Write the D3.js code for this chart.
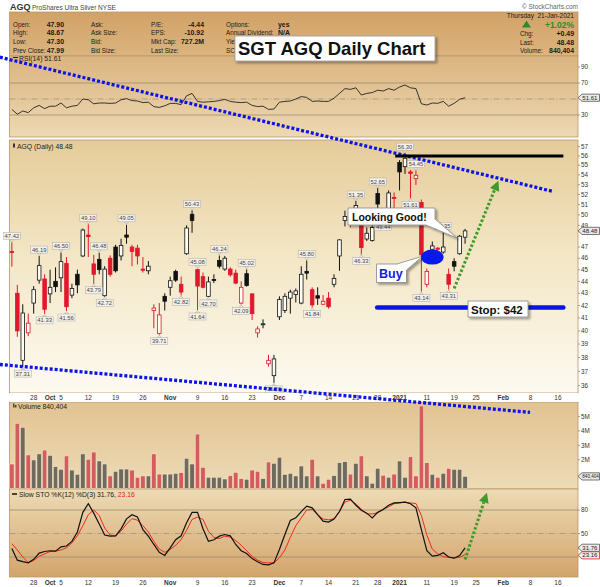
<!DOCTYPE html>
<html><head><meta charset="utf-8">
<script src="https://cdn.jsdelivr.net/npm/d3@7"></script>
<style>body{margin:0;background:#fff;}svg{display:block;}text{font-family:"Liberation Sans",Arial,sans-serif;}</style>
</head><body><svg id="c" width="600" height="587"></svg>
<script>
// ---------------- DATA (trading-day index 1..84 = 22-Sep-2020 .. 21-Jan-2021) ----------------
const opens  = [46.6,43.0,37.8,39.85,42.2,44.1,44.2,42.95,44.0,44.3, 45.55,42.85,44.6,46.2,48.1,45.5,45.9,42.8,46.0,47.0,
  46.2,48.1,47.0,46.9,45.05,44.9,41.6,39.8,42.75,43.5, 44.85,43.75,46.4,50.05,45.0,44.4,42.75,44.15,45.8,45.05,
  45.05,44.7,42.2,44.65,42.95,39.85,40.5,37.55,36.7,41.1, 41.6,42.6,42.9,42.2,44.85,43.3,42.8,42.1,42.6,43.75,
  46.2,49.45,50.0,50.5,49.5,47.73,47.6,52.1,50.2,50.35, 51.7,55.3,54.85,54.3,53.6,51.2,43.75,46.8,46.9,46.55,
  44.6,45.7,46.4,47.90];
const highs  = [47.42,43.7,42.1,41.35,43.6,46.19,44.6,45.0,45.2,46.5, 46.1,43.8,45.0,48.7,49.10,46.3,46.48,45.3,46.25,47.2,
  47.75,49.05,47.2,47.2,46.1,45.75,42.1,42.2,43.0,44.4, 45.0,44.4,49.0,50.43,45.08,44.75,44.4,44.6,46.24,46.2,
  45.2,45.0,44.0,45.02,43.0,40.35,40.9,38.2,38.2,42.75, 43.0,43.3,43.4,45.3,45.80,43.5,43.5,42.85,43.1,44.6,
  47.7,50.4,50.5,51.35,50.6,48.8,49.0,52.65,50.4,52.4, 52.2,55.55,56.30,54.5,54.45,51.5,45.1,47.5,47.0,48.35,
  45.1,46.0,48.1,48.67];
const lows   = [45.26,39.55,37.31,39.6,41.35,43.8,41.33,42.2,43.1,43.1, 41.56,42.6,43.0,46.1,46.1,43.79,44.6,42.72,44.4,44.75,
  45.8,47.3,45.3,45.45,44.75,44.6,40.2,39.71,41.6,42.8, 43.95,42.82,46.3,48.3,41.64,43.4,42.70,43.85,45.1,44.9,
  44.4,43.75,42.09,43.55,40.85,39.5,40.2,37.35,36.2,40.85, 41.4,41.35,42.25,42.1,44.15,41.84,42.05,42.05,41.75,43.5,
  44.9,48.9,48.8,49.8,46.33,47.55,47.5,49.6,49.44,50.0, 50.6,52.4,54.1,51.61,52.95,43.14,43.5,46.3,46.4,46.4,
  43.31,44.85,46.3,47.30];
const closes = [46.5,40.0,41.4,40.6,43.3,45.35,41.7,43.5,43.55,45.7, 41.9,43.4,43.7,48.56,47.95,44.6,45.0,45.05,44.6,44.9,
  47.15,47.9,46.6,46.2,44.95,45.3,41.8,41.25,42.35,44.05, 44.1,43.1,48.75,49.45,43.6,43.5,43.95,44.1,45.3,46.0,
  44.55,43.85,43.5,43.65,41.35,40.15,40.55,37.8,37.9,42.5, 42.75,43.1,43.2,44.6,44.7,42.05,42.6,42.35,41.9,44.25,
  47.65,49.85,49.6,50.9,46.95,48.26,48.8,51.05,49.5,52.15, 51.6,54.3,55.75,54.15,53.95,46.3,44.85,47.1,46.8,47.0,
  43.75,45.3,47.99,48.48];
const priorClose = 47.0;
const volumeM = [1.70,4.53,4.25,2.33,1.98,2.40,2.67,2.30,1.51,1.33, 2.26,1.28,0.98,2.40,2.03,2.53,1.91,1.70,0.87,1.19,
  1.35,1.35,1.28,0.78,0.87,0.87,2.40,1.00,1.00,1.00, 1.05,1.10,2.10,1.70,3.78,1.47,0.78,0.78,0.78,0.66,
  0.89,1.12,0.68,0.64,1.28,1.19,0.68,1.84,1.75,2.17, 0.98,1.05,0.87,1.56,0.87,2.03,0.87,0.36,0.64,0.89,
  1.79,1.86,1.00,1.75,2.26,0.87,0.36,1.40,0.92,0.78, 1.00,1.91,0.78,2.21,0.87,5.73,1.79,0.98,0.78,1.05,
  1.40,1.33,1.33,0.84];
const rsi14 = [37,31,35,33,39,42,38,41,41,45, 39,41,42,50,49,44,45,45,44.5,45, 49,50.5,48,47.5,45.5,46,40.5,39.5,41.5,44.5,
  44.5,43,54,57,47,46,46.5,47,48,49.5, 47,46,45.5,46,42,40.5,41,37,37.5,46, 47,47.5,50,53,52,47,47.5,47,47,51,
  57,63,62,64,55,57,58,61,60,63, 61,65,67.5,64,63,44,42.5,45,44.6,47, 41,44.6,49.6,51.61];
const stoK = [31,16,14,12.5,17,25,27,28,27.5,33, 34,40,52,77,88,76,62,48,46.6,47, 56,68.7,74,71,55,46.6,36,26,22,31.7,
  42,47,63.7,77,77,56,40,42,46.6,48.7, 47,36,28,24.5,18,14,10.5,10,12.5,29.6, 48.7,66.6,70,78,85,82.8,74,65.7,64.5,68.5,
  78,93.4,94,86,79.7,76,70,77,80.6,86, 89,89.5,90,88,82.8,55,28,21,22,25.5, 20,18.5,21.9,31.76];
const stoD = [37,29,20,13,15.5,21,24,27,27.4,29, 31.7,38,47,60,74,80,73,57,48,47, 53,62,69,67,60,52,40,30,26,29.6,
  35,42.3,54,68,71,68,53,45,43.5,46.6, 45.5,41,35,28,21,16,13,12.5,12.5,19, 29,45,60,70,80,80.6,74,68.5,67.5,68.8,
  78,90,92.5,88,81,75,75,76.5,81,84, 88,89,90,89,88.3,73,48,30,24,20.5, 19.5,19,19.5,23.16];
// high / low price flags
const flagIdx  = [1,3,6,7,10,11,15,16,17,18,22,28,32,34,35,35,37,39,43,44,49,55,56,64,65,68,69,73,74,75,76,80,81];
const flagType = ["h","l","h","l","h","l","h","l","h","l","h","l","l","h","h","l","l","h","l","h","l","h","l","h","l","h","l","h","l","h","l","h","l"];
const flagVal  = [47.42,37.31,46.19,41.33,46.50,41.56,49.10,43.79,46.48,42.72,49.05,39.71,42.82,50.43,45.08,41.64,42.70,46.24,42.09,45.02,36.20,45.80,41.84,51.35,46.33,52.65,49.44,56.30,51.61,54.45,43.14,48.35,43.31];
// axis ticks
const xTickIdx = [5,8,10,15,20,25,30,35,40,45,50,54,59,64,68,72,77,82,86,91,96,101];
const xTickLab = ["28","Oct","5","12","19","26","Nov","9","16","23","Dec","7","14","21","28","2021","11","19","25","Feb","8","16"];
const xTickBold = ["Oct","Nov","Dec","2021","Feb"];
const priceTicks = [36,37,38,39,40,41,42,43,44,45,46,47,49,50,51,52,53,54,55,56,57];
const rsiTicks = [30,70,90];
const volTicks = [2,3,4,5];
const stoTicks = [20,50,80];
// annotation levels (index, price)
const upperTrend = [[-1.2,67.7],[100.1,52.3]];
const lowerTrend = [[-1.2,37.5],[95.9,34.2]];
const resistance = [[71.2,56.0],[102,56.0]];
const stopLine   = [[67.9,41.85],[102,41.85]];
const greenArrowPrice = [[82,43.4],[90.1,53.4]];
const greenArrowSto   = [[84,16.8],[88,102]];
const buyPoint = [78,46.1];

// ---------------- SCALES ----------------
const svg = d3.select("#c");
const x  = d3.scaleLinear().domain([0,101]).range([6.4,557.9]);
const yP = d3.scaleLog().domain([36,57]).range([385.7,146.7]);
const yR = d3.scaleLinear().domain([30,70]).range([115,83]);
const yV = d3.scaleLinear().domain([0,5]).range([488.5,416.5]);
const yS = d3.scaleLinear().domain([20,80]).range([557,510]);
const PL=9.5, PR=578;

const defs = svg.append("defs");
function vgrad(id, stops){const g=defs.append("linearGradient").attr("id",id).attr("x1",0).attr("y1",0).attr("x2",0).attr("y2",1);
  stops.forEach(([o,c])=>g.append("stop").attr("offset",o).attr("stop-color",c));}
vgrad("gHead",[[0,"#d1a267"],[1,"#dbb47f"]]);
vgrad("gRsi",[[0,"#dbb47f"],[1,"#edd9b3"]]);
vgrad("gPrice",[[0,"#e5cb99"],[0.45,"#f3e6c5"],[1,"#fdfaf1"]]);
vgrad("gVol",[[0,"#e2c392"],[1,"#eddbb7"]]);
vgrad("gSto",[[0,"#eddbb5"],[1,"#d3a46b"]]);
const sh = defs.append("filter").attr("id","shadow").attr("x","-10%").attr("y","-20%").attr("width","130%").attr("height","160%");
sh.append("feDropShadow").attr("dx",2).attr("dy",2).attr("stdDeviation",1).attr("flood-color","#000").attr("flood-opacity",0.35);

// panels
const panels = [[12,56,"gHead"],[56,137,"gRsi"],[140,393,"gPrice"],[402,489,"gVol"],[489,577,"gSto"]];
svg.selectAll("rect.panel").data(panels).join("rect").attr("class","panel")
  .attr("x",PL).attr("y",d=>d[0]).attr("width",PR-PL).attr("height",d=>d[1]-d[0])
  .attr("fill",d=>`url(#${d[2]})`).attr("stroke","#b8976a").attr("stroke-width",0.8);

// title row
svg.append("text").attr("x",10).attr("y",10).attr("font-size",9).attr("font-weight","bold").attr("fill","#333").text("AGQ");
svg.append("text").attr("x",32).attr("y",10).attr("font-size",6.5).attr("fill","#444").text("ProShares Ultra Silver  NYSE");
svg.append("text").attr("x",578).attr("y",9).attr("font-size",6.5).attr("fill","#666").attr("text-anchor","end").text("© StockCharts.com");

// header block
const hdr = svg.append("g").attr("fill","#1a1a1a");
const rowsY = [26.5,35.3,44,52.8];
const col1 = ["Open:","High:","Low:","Prev Close:"], val1=["47.90","48.67","47.30","47.99"];
const col2 = ["Ask:","Ask Size:","Bid:","Bid Size:"];
const col3 = ["P/E:","EPS:","Mkt Cap:","Last Size:"], val3=["-4.44","-10.92","727.2M",""];
const col4 = ["Options:","Annual Dividend:","Yield:","SCTR:"], val4=["yes","N/A","",""];
const LF=6.3, VF=6.9;
rowsY.forEach((y,i)=>{
  hdr.append("text").attr("x",13).attr("y",y).attr("font-size",LF).text(col1[i]);
  hdr.append("text").attr("x",64).attr("y",y).attr("font-size",VF).attr("font-weight","bold").attr("text-anchor","end").text(val1[i]);
  hdr.append("text").attr("x",91).attr("y",y).attr("font-size",LF).text(col2[i]);
  hdr.append("text").attr("x",151).attr("y",y).attr("font-size",LF).text(col3[i]);
  hdr.append("text").attr("x",204).attr("y",y).attr("font-size",VF).attr("font-weight","bold").attr("text-anchor","end").text(val3[i]);
  hdr.append("text").attr("x",226).attr("y",y).attr("font-size",LF).text(col4[i]);
  hdr.append("text").attr("x",278).attr("y",y).attr("font-size",VF).attr("font-weight","bold").text(val4[i]);
});
hdr.append("text").attr("x",574).attr("y",17.5).attr("font-size",6.5).attr("text-anchor","end").attr("xml:space","preserve").text("Thursday  21-Jan-2021");
svg.append("path").attr("d","M522,27.5 L526.5,20.5 L531,27.5 Z").attr("fill","#2e8b2e");
svg.append("text").attr("x",574).attr("y",27.5).attr("font-size",8.5).attr("font-weight","bold").attr("fill","#2e8b2e").attr("text-anchor","end").text("+1.02%");
[["Chg:","+0.49"],["Last:","48.48"],["Volume:","840,404"]].forEach((r,i)=>{
  const y=[36,44.5,53][i];
  hdr.append("text").attr("x",520).attr("y",y).attr("font-size",LF).text(r[0]);
  hdr.append("text").attr("x",574).attr("y",y).attr("font-size",VF).attr("font-weight","bold").attr("text-anchor","end").text(r[1]);
});

// ---------- gridlines ----------
const grid = svg.append("g");
[70,30].forEach(v=>grid.append("line").attr("x1",PL).attr("x2",PR).attr("y1",yR(v)).attr("y2",yR(v)).attr("stroke","#a08a6c").attr("stroke-width",0.8));
grid.append("line").attr("x1",PL).attr("x2",PR).attr("y1",yR(50)).attr("y2",yR(50)).attr("stroke","#9c8a76").attr("stroke-width",0.7).attr("stroke-dasharray","6,2,1,2");
[80,20].forEach(v=>grid.append("line").attr("x1",PL).attr("x2",PR).attr("y1",yS(v)).attr("y2",yS(v)).attr("stroke","#a08a6c").attr("stroke-width",0.8));
grid.append("line").attr("x1",PL).attr("x2",PR).attr("y1",yS(50)).attr("y2",yS(50)).attr("stroke","#9c8a76").attr("stroke-width",0.7).attr("stroke-dasharray","6,2,1,2");

// ---------- RSI ----------
const lineGen = (ys)=>d3.line().x((d,i)=>x(i+1)).y(d=>ys(d));
svg.append("path").datum(rsi14).attr("d",lineGen(yR)).attr("fill","none").attr("stroke","#222").attr("stroke-width",0.9);
svg.append("line").attr("x1",13).attr("x2",18).attr("y1",57.5).attr("y2",57.5).attr("stroke","#222");
svg.append("text").attr("x",19).attr("y",60.5).attr("font-size",6.8).attr("font-family","DejaVu Sans").attr("fill","#222").text("RSI(14) 51.61");

// ---------- Price panel ----------
svg.append("rect").attr("x",13).attr("y",143.5).attr("width",2).attr("height",4).attr("fill","#333");
svg.append("text").attr("x",17).attr("y",148.5).attr("font-size",6.8).attr("font-family","DejaVu Sans").attr("fill","#222").text("AGQ (Daily) 48.48");

const candles = closes.map((c,i)=>({i:i+1,o:opens[i],h:highs[i],l:lows[i],c:c,pc:i?closes[i-1]:priorClose}));
const cg = svg.append("g");
const colr = d=> d.c>=d.pc ? "#111" : "#e0182c";
cg.selectAll("line.wick").data(candles).join("line").attr("class","wick")
  .attr("x1",d=>x(d.i)).attr("x2",d=>x(d.i)).attr("y1",d=>yP(d.h)).attr("y2",d=>yP(d.l))
  .attr("stroke",colr).attr("stroke-width",1);
cg.selectAll("rect.body").data(candles).join("rect").attr("class","body")
  .attr("x",d=>x(d.i)-1.8).attr("width",3.6)
  .attr("y",d=>yP(Math.max(d.o,d.c)))
  .attr("height",d=>Math.max(1,Math.abs(yP(d.o)-yP(d.c))))
  .attr("fill",d=> d.c>d.o ? "#fffdf4" : colr(d))
  .attr("stroke",colr).attr("stroke-width",0.8);

// flags
const fg = svg.append("g");
flagIdx.forEach((idx,k)=>{
  const v=flagVal[k], t=flagType[k], cx=x(idx), py=yP(v);
  const w=17, h=7;
  const by = t==="h" ? py-3-h : py+3;
  const tip = t==="h" ? `M${cx-2},${by+h} L${cx},${py-0.5} L${cx+2},${by+h}Z` : `M${cx-2},${by} L${cx},${py+0.5} L${cx+2},${by}Z`;
  fg.append("path").attr("d",tip).attr("fill","#f4f1ea").attr("stroke","#999").attr("stroke-width",0.5);
  fg.append("rect").attr("x",cx-w/2).attr("y",by).attr("width",w).attr("height",h).attr("fill","#f4f1ea").attr("stroke","#aaa").attr("stroke-width",0.5);
  fg.append("text").attr("x",cx).attr("y",by+5.6).attr("text-anchor","middle").attr("font-size",5.8).attr("font-family","DejaVu Sans").attr("fill","#444").text(v.toFixed(2));
});

// ---------- Volume ----------
svg.append("rect").attr("x",13).attr("y",403.5).attr("width",1.5).attr("height",4).attr("fill","#444");
svg.append("rect").attr("x",15).attr("y",405).attr("width",1.5).attr("height",2.5).attr("fill","#444");
svg.append("text").attr("x",18).attr("y",408.5).attr("font-size",6.8).attr("font-family","DejaVu Sans").attr("fill","#222").text("Volume 840,404");
svg.selectAll("rect.vol").data(candles).join("rect").attr("class","vol")
  .attr("x",d=>x(d.i)-2.2).attr("width",4.4)
  .attr("y",(d,i)=>yV(volumeM[i])).attr("height",(d,i)=>yV(0)-yV(volumeM[i]))
  .attr("fill",d=> d.c>=d.pc ? "#6f6a60" : "#d45c5e").attr("stroke","#f6e9c9").attr("stroke-width",0.5);

// ---------- Stochastics ----------
svg.append("path").datum(stoD).attr("d",lineGen(yS)).attr("fill","none").attr("stroke","#ee2a1e").attr("stroke-width",1);
svg.append("path").datum(stoK).attr("d",lineGen(yS)).attr("fill","none").attr("stroke","#111").attr("stroke-width",1.2);
svg.append("line").attr("x1",12).attr("x2",17).attr("y1",494).attr("y2",494).attr("stroke","#111").attr("stroke-width",1.5);
const st = svg.append("text").attr("x",19).attr("y",496.5).attr("font-size",6.8).attr("font-family","DejaVu Sans").attr("fill","#222");
st.append("tspan").text("Slow STO %K(12) %D(3) 31.76, ");
st.append("tspan").attr("fill","#e8201c").text("23.16");

// ---------- X axes ----------
svg.append("rect").attr("x",PL).attr("y",393).attr("width",PR-PL).attr("height",9).attr("fill","#fff");
[399.5,584.5].forEach(yy=>{
  svg.append("g").selectAll("text").data(xTickIdx).join("text")
    .attr("x",d=>x(d)).attr("y",yy).attr("text-anchor","middle")
    .attr("font-size",6.5).attr("font-family","DejaVu Sans")
    .attr("font-weight",(d,i)=>xTickBold.includes(xTickLab[i])?"bold":"normal")
    .attr("fill","#333").text((d,i)=>xTickLab[i]);
});

// ---------- right axes ----------
const ax = svg.append("g").attr("font-family","DejaVu Sans").attr("font-size",6.3).attr("fill","#333");
function rlab(y,t){ax.append("line").attr("x1",PR).attr("x2",PR+2).attr("y1",y).attr("y2",y).attr("stroke","#666").attr("stroke-width",0.6);
  ax.append("text").attr("x",581).attr("y",y+2.2).text(t);}
priceTicks.forEach(p=>rlab(yP(p),p));
rsiTicks.forEach(v=>rlab(yR(v),v));
volTicks.forEach(v=>rlab(yV(v),v+"M"));
stoTicks.filter(v=>v!==20).forEach(v=>rlab(yS(v),v));
function tag(y,t,col,fs){
  svg.append("path").attr("d",`M${PR},${y} L${PR+4},${y-3.6} H599.5 V${y+3.6} H${PR+4} Z`).attr("fill","#eceae6").attr("stroke",col).attr("stroke-width",0.8);
  svg.append("text").attr("x",PR+4.3).attr("y",y+2).attr("font-size",fs||6).attr("font-family","DejaVu Sans").attr("fill","#222").text(t);
}
tag(yR(51.61),"51.61","#555");
tag(yP(48.48),"48.48","#555");
tag(yV(0.84),"840,404","#555",4.6);
tag(yS(31.76),"31.76","#555");
tag(yS(23.16)+0.8,"23.16","#e8201c");

// ---------- annotations ----------
const ptP = d=>[x(d[0]),yP(d[1])];
const ann = svg.append("g");
[upperTrend,lowerTrend].forEach(seg=>{
  ann.append("line").attr("x1",ptP(seg[0])[0]).attr("y1",ptP(seg[0])[1]).attr("x2",ptP(seg[1])[0]).attr("y2",ptP(seg[1])[1])
    .attr("stroke","#0a14e6").attr("stroke-width",3.3).attr("stroke-dasharray","3,2");
});
ann.append("line").attr("x1",ptP(resistance[0])[0]).attr("y1",ptP(resistance[0])[1]).attr("x2",ptP(resistance[1])[0]).attr("y2",ptP(resistance[1])[1])
  .attr("stroke","#000").attr("stroke-width",3);
ann.append("line").attr("x1",ptP(stopLine[0])[0]).attr("y1",ptP(stopLine[0])[1]).attr("x2",ptP(stopLine[1])[0]).attr("y2",ptP(stopLine[1])[1])
  .attr("stroke","#0a14e6").attr("stroke-width",4.5).attr("stroke-linecap","round");

function greenArrow(p0,p1){
  const dx=p1[0]-p0[0], dy=p1[1]-p0[1], L=Math.hypot(dx,dy), ux=dx/L, uy=dy/L;
  const hl=10, hw=5;
  const bx=p1[0]-ux*hl, by=p1[1]-uy*hl;
  ann.append("line").attr("x1",p0[0]).attr("y1",p0[1]).attr("x2",bx).attr("y2",by)
    .attr("stroke","#3d9b2a").attr("stroke-width",3).attr("stroke-dasharray","2.5,2");
  ann.append("path").attr("d",`M${p1[0]},${p1[1]} L${bx-uy*hw},${by+ux*hw} L${bx+uy*hw},${by-ux*hw} Z`).attr("fill","#3d9b2a");
}
greenArrow(ptP(greenArrowPrice[0]),ptP(greenArrowPrice[1]));
greenArrow([x(greenArrowSto[0][0]),yS(greenArrowSto[0][1])],[x(greenArrowSto[1][0]),yS(greenArrowSto[1][1])]);

// callouts
ann.append("path").attr("d","M348,208 H435 V219 L457,238 L426,225 H348 Z").attr("fill","#fff").attr("stroke","#888").attr("stroke-width",0.8).attr("filter","url(#shadow)");
ann.append("text").attr("x",352).attr("y",220.5).attr("font-size",10.5).attr("font-weight","bold").attr("fill","#111").text("Looking Good!");
ann.append("path").attr("d","M376.5,264 H397 L423,256 L406.5,270 V282.5 H376.5 Z").attr("fill","#fff").attr("stroke","#888").attr("stroke-width",0.8).attr("filter","url(#shadow)");
ann.append("text").attr("x",379).attr("y",278).attr("font-size",12.5).attr("font-weight","bold").attr("fill","#1020d8").text("Buy");
ann.append("ellipse").attr("cx",x(buyPoint[0])).attr("cy",yP(buyPoint[1])).attr("rx",11.3).attr("ry",7.5).attr("fill","#0818f0");
ann.append("rect").attr("x",468).attr("y",301).attr("width",60).attr("height",16).attr("fill","#fff").attr("stroke","#888").attr("stroke-width",0.8).attr("filter","url(#shadow)");
ann.append("text").attr("x",471).attr("y",313.5).attr("font-size",11.5).attr("font-weight","bold").attr("fill","#111").text("Stop: $42");

// chart title box (covers part of the header row labels, as in the original)
ann.append("rect").attr("x",235).attr("y",36).attr("width",200).attr("height",25).attr("fill","#fff").attr("stroke","#999").attr("stroke-width",0.8).attr("filter","url(#shadow)");
ann.append("text").attr("x",238).attr("y",55).attr("font-size",18.5).attr("font-weight","bold").attr("fill","#111").text("SGT AGQ Daily Chart");
</script></body></html>
